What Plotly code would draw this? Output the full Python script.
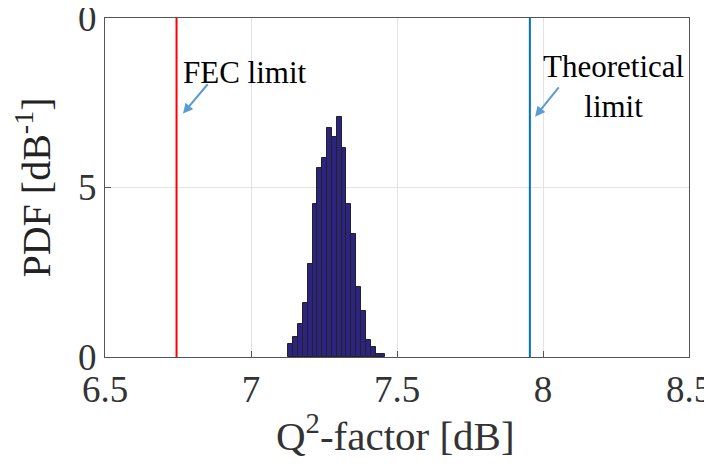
import plotly.graph_objects as go

# Histogram data (PDF of Q^2-factor)
bin_centers = [7.1360, 7.1526, 7.1692, 7.1858, 7.2024, 7.2190, 7.2356, 7.2522, 7.2688, 7.2854,
               7.3020, 7.3186, 7.3352, 7.3518, 7.3684, 7.3850, 7.4016, 7.4182, 7.4348, 7.4514]
pdf_values = [0.39, 0.59, 0.98, 1.59, 2.75, 4.51, 5.59, 5.88, 6.76, 6.49,
              7.08, 6.18, 4.51, 3.63, 2.06, 1.37, 0.51, 0.29, 0.10, 0.10]
bin_width = 0.0166

fec_limit = 6.745
theoretical_limit = 7.955

x_ticks = [6.5, 7, 7.5, 8, 8.5]
x_tick_labels = ["6.5", "7", "7.5", "8", "8.5"]
y_ticks = [0, 5, 10]
y_tick_labels = ["0", "5", "0"]

FONT = "Liberation Serif, Times New Roman, serif"

fig = go.Figure()
fig.add_trace(go.Bar(
    x=bin_centers, y=pdf_values, width=bin_width,
    marker=dict(color="rgb(44,36,128)", line=dict(color="#222222", width=1)),
    showlegend=False,
))

fig.add_shape(type="line", x0=fec_limit, x1=fec_limit, y0=0, y1=1, yref="paper",
              line=dict(color="#ff0000", width=2))
fig.add_shape(type="line", x0=theoretical_limit, x1=theoretical_limit, y0=0, y1=1, yref="paper",
              line=dict(color="#0072BD", width=2))

fig.add_annotation(x=6.76, y=8.4, xref="x", yref="y", text="FEC limit", showarrow=False,
                   xanchor="left", yanchor="middle", font=dict(family=FONT, size=31, color="black"))
fig.add_annotation(x=6.767, y=7.18, ax=6.856, ay=8.09, xref="x", yref="y", axref="x", ayref="y",
                   text="", showarrow=True, arrowhead=2, arrowsize=1, arrowwidth=2,
                   arrowcolor="#5B9BD5")
fig.add_annotation(x=8.243, y=7.97, xref="x", yref="y", text="Theoretical<br>limit", showarrow=False,
                   xanchor="center", yanchor="middle", align="center",
                   font=dict(family=FONT, size=31, color="black"))
fig.add_annotation(x=7.973, y=7.09, ax=8.058, ay=8.0, xref="x", yref="y", axref="x", ayref="y",
                   text="", showarrow=True, arrowhead=2, arrowsize=1, arrowwidth=2,
                   arrowcolor="#5B9BD5")

# x-axis title as an annotation for exact placement
fig.add_annotation(x=0.497, y=-0.225, xref="paper", yref="paper", text="Q<sup>2</sup>-factor [dB]",
                   showarrow=False, xanchor="center", yanchor="middle",
                   font=dict(family=FONT, size=41, color="#333333"))

axis_common = dict(showline=True, mirror=True, linecolor="#555555", linewidth=1,
                   showgrid=True, gridcolor="#e3e3e3", gridwidth=1, zeroline=False,
                   ticks="inside", ticklen=6, tickcolor="#555555", automargin=False,
                   ticklabeloverflow="allow",
                   tickfont=dict(family=FONT, size=37, color="#333333"))

fig.update_xaxes(range=[6.5, 8.5], tickvals=x_ticks, ticktext=x_tick_labels, **axis_common)
fig.update_yaxes(range=[0, 10], tickvals=y_ticks, ticktext=y_tick_labels,
                 title=dict(text="PDF [dB<sup>-1</sup>]", font=dict(family=FONT, size=40, color="#222222"),
                            standoff=16),
                 **axis_common)

# the page body adds an 8 px margin, so the figure is sized to fill the rest of the window
fig.update_layout(width=704, height=467, margin=dict(l=97, r=23, t=10, b=118),
                  paper_bgcolor="white", plot_bgcolor="white", bargap=0)

fig.write_html("out.html")
